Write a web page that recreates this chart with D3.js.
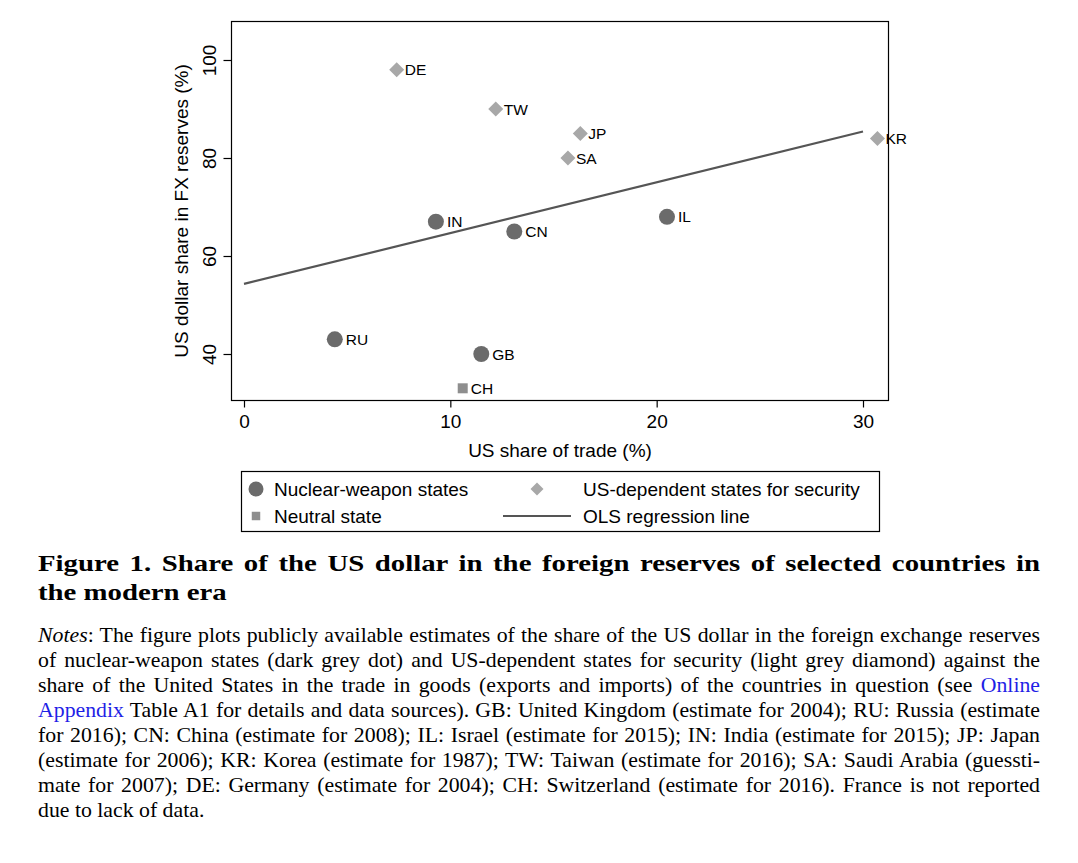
<!DOCTYPE html>
<html>
<head>
<meta charset="utf-8">
<script src="https://cdn.jsdelivr.net/npm/d3@7"></script>
<style>
  body { margin: 0; background: #fff; }
  svg { display: block; }
</style>
</head>
<body>
<script>
// data
const countries = ["DE", "TW", "JP", "SA", "KR", "IN", "CN", "IL", "RU", "GB", "CH"];
const tradeShare = [7.4, 12.2, 16.3, 15.7, 30.7, 9.3, 13.1, 20.5, 4.4, 11.5, 10.6];
const dollarShare = [98, 90, 85, 80, 84, 67, 65, 68, 43, 40, 33];
const groups = ["sec", "sec", "sec", "sec", "sec", "nuc", "nuc", "nuc", "nuc", "nuc", "neu"];
const olsX = [0, 30];
const olsY = [54.3, 85.4];
const xTicks = [0, 10, 20, 30];
const yTicks = [40, 60, 80, 100];

const groupLabels = {
  nuc: "Nuclear-weapon states",
  sec: "US-dependent states for security",
  neu: "Neutral state",
  ols: "OLS regression line"
};
const groupColor = { nuc: "#6b6b6b", sec: "#a8a8a8", neu: "#8e8e8e" };

const titleLines = [
  "Figure 1. Share of the US dollar in the foreign reserves of selected countries in",
  "the modern era"
];
const noteLines = [
  "Notes: The figure plots publicly available estimates of the share of the US dollar in the foreign exchange reserves",
  "of nuclear-weapon states (dark grey dot) and US-dependent states for security (light grey diamond) against the",
  "share of the United States in the trade in goods (exports and imports) of the countries in question (see Online",
  "Appendix Table A1 for details and data sources). GB: United Kingdom (estimate for 2004); RU: Russia (estimate",
  "for 2016); CN: China (estimate for 2008); IL: Israel (estimate for 2015); IN: India (estimate for 2015); JP: Japan",
  "(estimate for 2006); KR: Korea (estimate for 1987); TW: Taiwan (estimate for 2016); SA: Saudi Arabia (guessti-",
  "mate for 2007); DE: Germany (estimate for 2004); CH: Switzerland (estimate for 2016). France is not reported",
  "due to lack of data."
];

const W = 1078, H = 863;
const sans = "'Liberation Sans', Arial, sans-serif";
const serif = "'Liberation Serif', 'Times New Roman', serif";

const svg = d3.select("body").append("svg")
  .attr("width", W)
  .attr("height", H);

// plot region
const box = { left: 231.5, right: 888.5, top: 21.5, bottom: 400.5 };
const x = d3.scaleLinear().domain([0, 30]).range([244, 863]);
const y = d3.scaleLinear().domain([40, 100]).range([354, 60]);

const points = countries.map((c, i) => ({
  name: c, x: tradeShare[i], y: dollarShare[i], group: groups[i]
}));

svg.append("rect")
  .attr("x", box.left)
  .attr("y", box.top)
  .attr("width", box.right - box.left)
  .attr("height", box.bottom - box.top)
  .attr("fill", "none")
  .attr("stroke", "#000")
  .attr("stroke-width", 1.2);

// x axis
const xAxis = svg.append("g")
  .attr("transform", `translate(0,${box.bottom})`)
  .call(d3.axisBottom(x).tickValues(xTicks).tickSize(7).tickPadding(7).tickFormat(d3.format("d")));
xAxis.select(".domain").remove();
xAxis.selectAll("line").attr("stroke", "#000").attr("stroke-width", 1.2);
xAxis.selectAll("text").attr("font-family", sans).attr("font-size", 19).attr("fill", "#000");

// y axis, labels rotated like Stata
const yAxis = svg.append("g")
  .attr("transform", `translate(${box.left},0)`)
  .call(d3.axisLeft(y).tickValues(yTicks).tickSize(8).tickFormat(d3.format("d")));
yAxis.select(".domain").remove();
yAxis.selectAll("line").attr("stroke", "#000").attr("stroke-width", 1.2);
yAxis.selectAll("text")
  .attr("font-family", sans).attr("font-size", 19).attr("fill", "#000")
  .attr("x", null).attr("dy", null)
  .attr("text-anchor", "middle")
  .attr("transform", "translate(-16,0) rotate(-90)");

svg.append("text")
  .attr("transform", `translate(188,${(box.top + box.bottom) / 2}) rotate(-90)`)
  .attr("text-anchor", "middle")
  .attr("font-family", sans)
  .attr("font-size", 19)
  .text("US dollar share in FX reserves (%)");

svg.append("text")
  .attr("x", (box.left + box.right) / 2)
  .attr("y", 457)
  .attr("text-anchor", "middle")
  .attr("font-family", sans)
  .attr("font-size", 19)
  .text("US share of trade (%)");

// regression line
svg.append("path")
  .datum(olsX.map((v, i) => [v, olsY[i]]))
  .attr("d", d3.line().x(d => x(d[0])).y(d => y(d[1])))
  .attr("stroke", "#555")
  .attr("stroke-width", 2.2)
  .attr("fill", "none");

// markers (diamond2 half-diagonal = sqrt(size) * 0.62625)
const diamondSize = r => Math.pow(r / 0.62625, 2);
const symbolFor = {
  nuc: d3.symbol().type(d3.symbolCircle).size(Math.PI * 8 * 8),
  sec: d3.symbol().type(d3.symbolDiamond2).size(diamondSize(7.5)),
  neu: d3.symbol().type(d3.symbolSquare).size(100)
};
const labelGap = { nuc: 11, sec: 8, neu: 8 };

const node = svg.selectAll(".pt")
  .data(points)
  .enter()
  .append("g")
  .attr("class", "pt")
  .attr("transform", d => `translate(${x(d.x)},${y(d.y)})`);

node.append("path")
  .attr("d", d => symbolFor[d.group]())
  .attr("fill", d => groupColor[d.group]);

node.append("text")
  .attr("x", d => labelGap[d.group])
  .attr("y", 5.5)
  .attr("font-family", sans)
  .attr("font-size", 15.5)
  .text(d => d.name);

// legend
const lg = svg.append("g");
lg.append("rect")
  .attr("x", 241.5).attr("y", 471.5)
  .attr("width", 638).attr("height", 60)
  .attr("fill", "none").attr("stroke", "#000").attr("stroke-width", 1.2);

const legendItems = [
  { key: "nuc", mx: 256, tx: 274, cy: 489 },
  { key: "sec", mx: 537, tx: 583, cy: 489 },
  { key: "neu", mx: 256, tx: 274, cy: 516 },
  { key: "ols", mx: 537, tx: 583, cy: 516 }
];
const legendSymbol = {
  nuc: d3.symbol().type(d3.symbolCircle).size(Math.PI * 7.5 * 7.5),
  sec: d3.symbol().type(d3.symbolDiamond2).size(diamondSize(6.5)),
  neu: d3.symbol().type(d3.symbolSquare).size(72)
};
legendItems.forEach(it => {
  if (it.key === "ols") {
    lg.append("line")
      .attr("x1", 503).attr("x2", 571)
      .attr("y1", it.cy).attr("y2", it.cy)
      .attr("stroke", "#555").attr("stroke-width", 2.2);
  } else {
    lg.append("path")
      .attr("transform", `translate(${it.mx},${it.cy})`)
      .attr("d", legendSymbol[it.key]())
      .attr("fill", groupColor[it.key]);
  }
  lg.append("text")
    .attr("x", it.tx).attr("y", it.cy + 7)
    .attr("font-family", sans)
    .attr("font-size", 19)
    .text(groupLabels[it.key]);
});

// the original serif is wider than Times: stretch glyphs by sx,
// then spread word spacing so justified lines fill the column
const colLeft = 38, colWidth = 1002;
function setLine(sel, sx, justified) {
  sel.attr("transform", `translate(${colLeft},0) scale(${sx},1)`).attr("x", 0);
  if (!justified) return;
  const natural = sel.node().getComputedTextLength();
  const spaces = (sel.text().match(/ /g) || []).length;
  if (spaces > 0) sel.attr("word-spacing", (colWidth / sx - natural) / spaces);
}

titleLines.forEach((t, i) => {
  const tl = svg.append("text")
    .attr("y", 571 + i * 29)
    .attr("font-family", serif)
    .attr("font-weight", "bold")
    .attr("font-size", 24)
    .text(t);
  setLine(tl, 1.2, i < titleLines.length - 1);
});

noteLines.forEach((t, i) => {
  const tl = svg.append("text")
    .attr("y", 642 + i * 25)
    .attr("font-family", serif)
    .attr("font-size", 20);
  let rest = t;
  if (i === 0) {
    tl.append("tspan").attr("font-style", "italic").text("Notes");
    rest = t.slice(5);
  }
  if (i === 2) {
    tl.append("tspan").text(rest.slice(0, -6));
    tl.append("tspan").attr("fill", "#1f1fe6").text("Online");
  } else if (i === 3) {
    tl.append("tspan").attr("fill", "#1f1fe6").text("Appendix");
    tl.append("tspan").text(rest.slice(8));
  } else {
    tl.append("tspan").text(rest);
  }
  setLine(tl, 1.09, i < noteLines.length - 1);
});
</script>
</body>
</html>
